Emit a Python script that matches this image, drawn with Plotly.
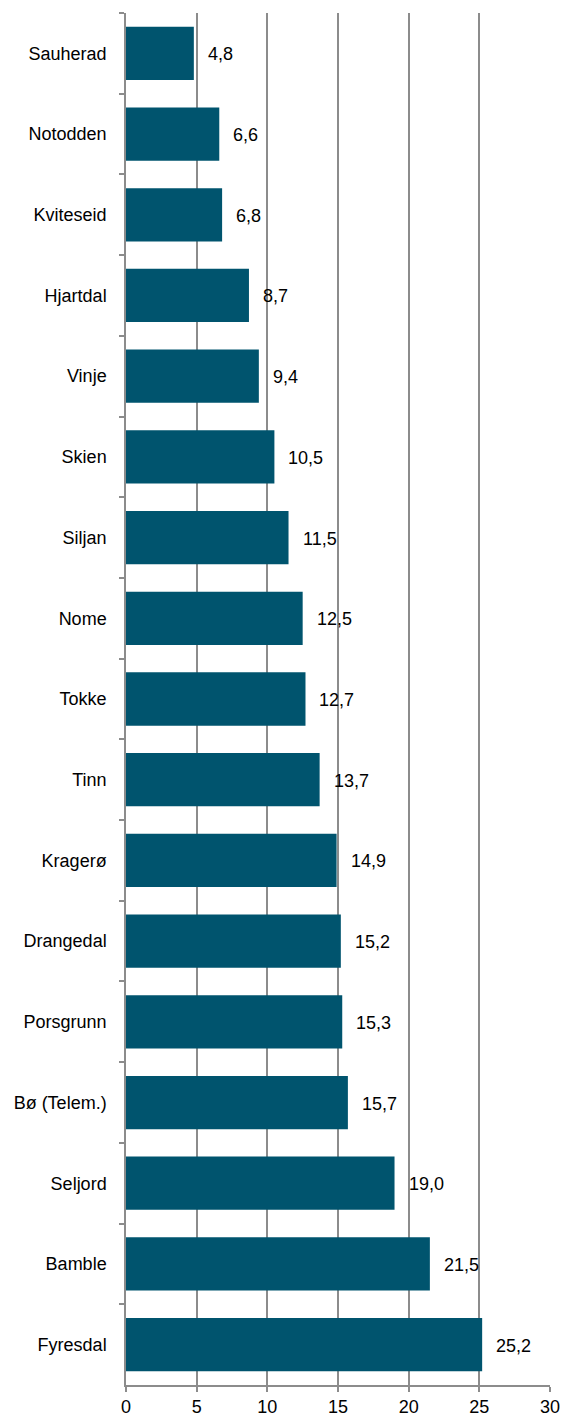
import plotly.graph_objects as go

categories = ["Sauherad", "Notodden", "Kviteseid", "Hjartdal", "Vinje", "Skien", "Siljan",
              "Nome", "Tokke", "Tinn", "Kragerø", "Drangedal", "Porsgrunn", "Bø (Telem.)",
              "Seljord", "Bamble", "Fyresdal"]
values = [4.8, 6.6, 6.8, 8.7, 9.4, 10.5, 11.5, 12.5, 12.7, 13.7, 14.9, 15.2, 15.3, 15.7,
          19.0, 21.5, 25.2]
x_ticks = [0, 5, 10, 15, 20, 25, 30]

labels = [f"{v:.1f}".replace(".", ",") for v in values]
FONT = "Liberation Sans, Arial, sans-serif"

fig = go.Figure()
fig.add_trace(go.Bar(
    y=categories, x=values, orientation="h",
    marker=dict(color="#00546E", line=dict(width=0)),
    width=0.66,
))
for c, v, t in zip(categories, values, labels):
    fig.add_annotation(x=v, y=c, text=t, showarrow=False, xanchor="left",
                       xshift=12, yshift=-1,
                       font=dict(size=18, color="#000000", family=FONT))

fig.update_layout(
    width=561, height=1416,
    margin=dict(l=126, r=11, t=13, b=31, autoexpand=False),
    paper_bgcolor="white", plot_bgcolor="white",
    showlegend=False,
    font=dict(family=FONT, size=18, color="#000000"),
)
fig.update_xaxes(
    range=[0, 30], tickvals=x_ticks, ticktext=[str(t) for t in x_ticks],
    showgrid=True, gridcolor="#8C8C8C", gridwidth=1.5,
    showline=True, linecolor="#8C8C8C", linewidth=1.5,
    ticks="outside", ticklen=5, tickcolor="#8C8C8C", tickwidth=1.5,
    zeroline=False, tickfont=dict(size=18, family=FONT), automargin=False,
)
fig.update_yaxes(
    categoryorder="array", categoryarray=categories, autorange="reversed",
    showline=True, linecolor="#8C8C8C", linewidth=1.5,
    ticks="outside", ticklen=5, tickcolor="#8C8C8C", tickwidth=1.5,
    tickson="boundaries", showgrid=False, ticklabelstandoff=14,
    tickfont=dict(size=18, family=FONT), automargin=False,
)
fig.write_html(
    "out.html",
    config={"displayModeBar": False},
    post_script="document.body.style.margin='0';document.body.style.overflow='hidden';",
)
